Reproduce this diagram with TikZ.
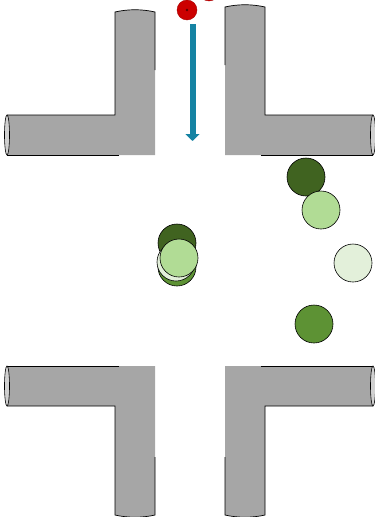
\documentclass[tikz,border=0pt]{standalone}
\usetikzlibrary{arrows.meta}
\definecolor{pipe}{RGB}{166,166,166}
\definecolor{pipeend}{RGB}{208,208,208}
\definecolor{sea}{RGB}{21,131,163}
\definecolor{redcar}{RGB}{204,0,0}
\definecolor{darkleaf}{RGB}{64,99,32}
\definecolor{midleaf}{RGB}{93,146,52}
\definecolor{lightleaf}{RGB}{177,220,149}
\definecolor{paleleaf}{RGB}{227,240,218}
\tikzset{
  >={Triangle[width=14pt,length=7pt]},
  car/.style={circle,draw=black,line width=0.6pt,fill=#1,minimum size=38pt,inner sep=0pt},
  car/.default=lightleaf,
  walker/.style={circle,draw=red!65!black,fill=redcar,minimum size=20pt,inner sep=0pt},
  flow/.style={->,line width=6pt,draw=sea},
  % L-shaped kerb, outer corner at the origin
  pics/bend/.style={code={
    \fill[pipe] (0,0) -- (-148,0) -- (-148,-40) -- (-40,-40) -- (-40,-#1) -- (0,-#1) -- cycle;
    \fill[pipe] (-40,-#1) .. controls (-27,-#1-3) and (-13,-#1-3) .. (0,-#1);
    \draw[line width=0.7pt] (-36,0) -- (-148,0);
    \draw[line width=0.7pt] (-148,-40) -- (-40,-40) -- (-40,-#1)
      .. controls (-27,-#1-3) and (-13,-#1-3) .. (0,-#1) -- (0,-#1+58);
    \draw[line width=0.6pt,fill=pipeend] (-148,-20) ellipse [x radius=2.5, y radius=20];
  }},
  pics/bend/.default=145,
}

\begin{document}
\begin{tikzpicture}[x=1pt,y=-1pt]
  \useasboundingbox (0,0) rectangle (375,517);
  % kerbs
  \pic at (155,155) {bend=143};
  \pic[xscale=-1] at (225,155) {bend=148};
  \pic[yscale=-1] at (155,366) {bend=149};
  \pic[xscale=-1,yscale=-1] at (225,366) {bend=149};
  % pedestrians
  \node[walker] (p1) at (187,10) {};
  \node[walker] (p2) at (209,-9) {};
  \fill[red!35!black] (p1.center) circle (1.3);
  % crossing direction
  \coordinate (a0) at (192.5,24);
  \coordinate (a1) at (192.5,141);
  \draw[flow] (a0) -- (a1);
  % vehicles
  \foreach \n/\x/\y/\c in {
    1/177/243/darkleaf, 2/177/267/midleaf, 3/176/262/paleleaf, 4/179/258/lightleaf,
    5/306/177/darkleaf, 6/321/210/lightleaf, 7/353/263/paleleaf, 8/314/324/midleaf}
  {
    \node[car=\c] (v\n) at (\x,\y) {};
  }
\end{tikzpicture}
\end{document}
